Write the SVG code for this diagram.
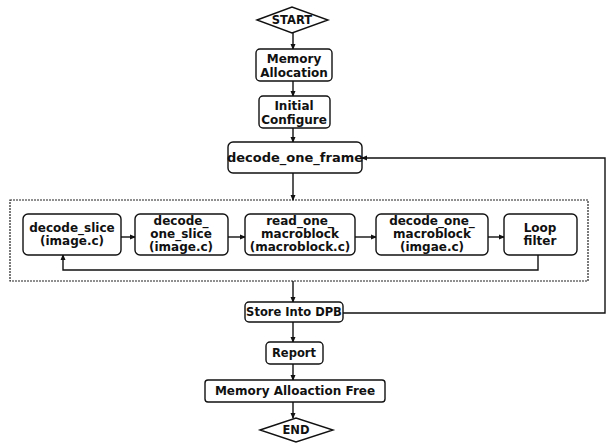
<svg xmlns="http://www.w3.org/2000/svg" width="611" height="443" viewBox="0 0 611 443">
<style>
.n{fill:#fff;stroke:#111;stroke-width:1.4}
.t{font-family:"DejaVu Sans","Liberation Sans",sans-serif;font-weight:bold;font-size:11.5px;fill:#111;text-anchor:middle}
.m{font-size:12px}
.c{fill:none;stroke:#111;stroke-width:1.4}
.d{fill:none;stroke:#222;stroke-width:1.2;stroke-dasharray:2 1}
</style>
<defs>
<marker id="a" markerWidth="6" markerHeight="6" refX="5" refY="3" orient="auto" markerUnits="userSpaceOnUse">
<path d="M0,0.5 L6,3 L0,5.5 z" fill="#111"/>
</marker>
</defs>
<rect width="611" height="443" fill="#fff"/>
<g id="loop-box"><rect class="d" x="10" y="200" width="578" height="81"/></g>
<g id="connectors">
<line class="c" x1="293" y1="33" x2="293" y2="49" marker-end="url(#a)"/>
<line class="c" x1="293" y1="81" x2="293" y2="96" marker-end="url(#a)"/>
<line class="c" x1="293" y1="128" x2="293" y2="142" marker-end="url(#a)"/>
<line class="c" x1="293" y1="173" x2="293" y2="200" marker-end="url(#a)"/>
<line class="c" x1="293" y1="281" x2="293" y2="302" marker-end="url(#a)"/>
<line class="c" x1="293" y1="322" x2="293" y2="342" marker-end="url(#a)"/>
<line class="c" x1="293" y1="364" x2="293" y2="380" marker-end="url(#a)"/>
<line class="c" x1="293" y1="402" x2="293" y2="418" marker-end="url(#a)"/>
<polyline class="c" points="343,313 605,313 605,158 362,158" marker-end="url(#a)"/>
<line class="c" x1="121" y1="237" x2="135" y2="237" marker-end="url(#a)"/>
<line class="c" x1="228" y1="237" x2="245" y2="237" marker-end="url(#a)"/>
<line class="c" x1="355" y1="237" x2="376" y2="237" marker-end="url(#a)"/>
<line class="c" x1="488" y1="237" x2="504" y2="237" marker-end="url(#a)"/>
<polyline class="c" points="538,255 538,270 63,270 63,255" marker-end="url(#a)"/>
</g>
<g id="start"><polygon class="n" points="257,20 292,7 328,20 292,33"/><text class="t" x="292" y="24">START</text></g>
<g id="memory-allocation"><rect class="n" x="256" y="49" width="76" height="32" rx="4"/><text class="t m" x="294" y="63">Memory</text><text class="t m" x="294" y="77">Allocation</text></g>
<g id="initial-configure"><rect class="n" x="259" y="96" width="71" height="32" rx="4"/><text class="t m" x="294" y="110">Initial</text><text class="t m" x="294" y="124">Configure</text></g>
<g id="decode-one-frame"><rect class="n" x="228" y="142" width="134" height="31" rx="5"/><text class="t" x="295" y="162" style="font-size:13px">decode_one_frame</text></g>
<g id="decode-slice"><rect class="n" x="23" y="214" width="98" height="41" rx="5"/><text class="t m" x="72" y="232">decode_slice</text><text class="t m" x="72" y="245">(image.c)</text></g>
<g id="decode-one-slice"><rect class="n" x="135" y="214" width="93" height="41" rx="5"/><text class="t m" x="181" y="225">decode_</text><text class="t m" x="181" y="238">one_slice</text><text class="t m" x="181" y="251">(image.c)</text></g>
<g id="read-one-macroblock"><rect class="n" x="245" y="214" width="110" height="41" rx="5"/><text class="t m" x="300" y="225">read_one_</text><text class="t m" x="300" y="238">macroblock</text><text class="t m" x="300" y="251">(macroblock.c)</text></g>
<g id="decode-one-macroblock"><rect class="n" x="376" y="214" width="112" height="41" rx="5"/><text class="t m" x="432" y="225">decode_one_</text><text class="t m" x="432" y="238">macroblock</text><text class="t m" x="432" y="251">(imgae.c)</text></g>
<g id="loop-filter"><rect class="n" x="504" y="214" width="73" height="41" rx="5"/><text class="t m" x="540" y="232">Loop</text><text class="t m" x="540" y="245">filter</text></g>
<g id="store-into-dpb"><rect class="n" x="245" y="302" width="98" height="20" rx="4"/><text class="t" x="294" y="316">Store Into DPB</text></g>
<g id="report"><rect class="n" x="266" y="342" width="57" height="22" rx="4"/><text class="t" x="294" y="357">Report</text></g>
<g id="memory-free"><rect class="n" x="205" y="380" width="180" height="22" rx="3"/><text class="t m" x="295" y="395">Memory Alloaction Free</text></g>
<g id="end"><polygon class="n" points="260,430 296,418 333,430 296,442"/><text class="t" x="296" y="434">END</text></g>
</svg>
